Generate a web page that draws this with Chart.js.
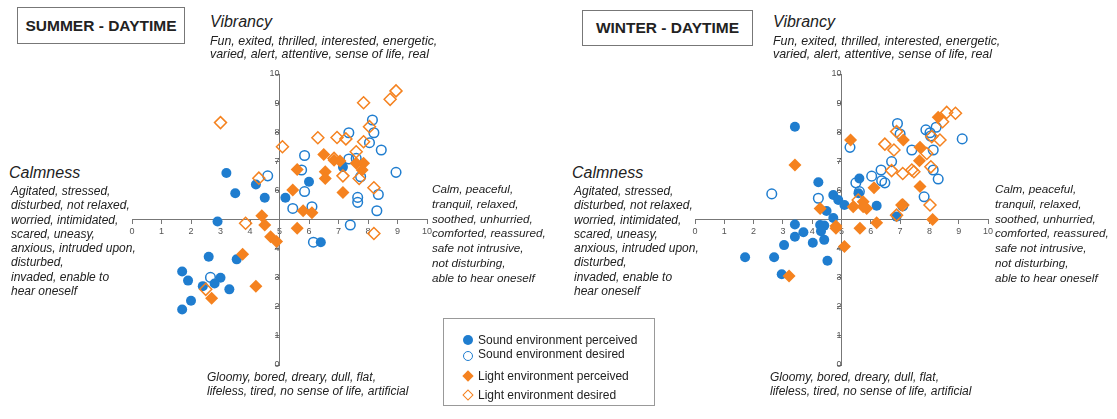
<!DOCTYPE html>
<html>
<head>
<meta charset="utf-8">
<script src="https://cdn.jsdelivr.net/npm/chart.js@4.4.1/dist/chart.umd.min.js"></script>
<style>
  body { margin: 0; background: #fff; font-family: "Liberation Sans", Arial, sans-serif; color: #222; }
  #page { position: relative; width: 1117px; height: 419px; overflow: hidden; }
  canvas { position: absolute; }
  .txt { position: absolute; white-space: nowrap; font-style: italic; z-index: 2; }
  .head { font-size: 16px; line-height: 20px; }
  .small { font-size: 12.4px; line-height: 13.3px; }
  .side { font-size: 12px; line-height: 14.3px; }
  .sideR { font-size: 11.7px; line-height: 14.8px; }
  .title { position: absolute; border: 1px solid #777; font-weight: bold; font-size: 15.5px; text-align: center; box-sizing: border-box; }
  #legend { position: absolute; left: 443px; top: 318px; width: 212px; height: 88px; border: 1px solid #999; box-sizing: border-box; font-size: 12px; z-index: 2; }
  .item { position: absolute; left: 34px; white-space: nowrap; line-height: 14px; }
  .sym { position: absolute; box-sizing: border-box; }
</style>
</head>
<body>
<div id="page">
  <canvas id="summerChart" width="335" height="331" style="left:112px; top:54px;"></canvas>
  <canvas id="winterChart" width="333" height="331" style="left:675px; top:54px;"></canvas>

  <!-- summer texts -->
  <div class="title" style="left:17px; top:7px; width:168px; height:37px; line-height:35px;">SUMMER - DAYTIME</div>
  <div class="txt head" style="left:210px; top:12px;">Vibrancy</div>
  <div class="txt small" style="left:210px; top:35px;">Fun, exited, thrilled, interested, energetic,<br>varied, alert, attentive, sense of life, real</div>
  <div class="txt head" style="left:9px; top:163px;">Calmness</div>
  <div class="txt side" style="left:11px; top:184px;">Agitated, stressed,<br>disturbed, not relaxed,<br>worried, intimidated,<br>scared, uneasy,<br>anxious, intruded upon,<br>disturbed,<br>invaded, enable to<br>hear oneself</div>
  <div class="txt sideR" style="left:432px; top:182px;">Calm, peaceful,<br>tranquil, relaxed,<br>soothed, unhurried,<br>comforted, reassured,<br>safe not intrusive,<br>not disturbing,<br>able to hear oneself</div>
  <div class="txt side" style="left:207px; top:370px;">Gloomy, bored, dreary, dull, flat,<br>lifeless, tired, no sense of life, artificial</div>

  <!-- winter texts -->
  <div class="title" style="left:582px; top:10px; width:171px; height:36px; line-height:34px;">WINTER - DAYTIME</div>
  <div class="txt head" style="left:773px; top:12px;">Vibrancy</div>
  <div class="txt small" style="left:773px; top:35px;">Fun, exited, thrilled, interested, energetic,<br>varied, alert, attentive, sense of life, real</div>
  <div class="txt head" style="left:572px; top:163px;">Calmness</div>
  <div class="txt side" style="left:574px; top:184px;">Agitated, stressed,<br>disturbed, not relaxed,<br>worried, intimidated,<br>scared, uneasy,<br>anxious, intruded upon,<br>disturbed,<br>invaded, enable to<br>hear oneself</div>
  <div class="txt sideR" style="left:995px; top:182px;">Calm, peaceful,<br>tranquil, relaxed,<br>soothed, unhurried,<br>comforted, reassured,<br>safe not intrusive,<br>not disturbing,<br>able to hear oneself</div>
  <div class="txt side" style="left:770px; top:370px;">Gloomy, bored, dreary, dull, flat,<br>lifeless, tired, no sense of life, artificial</div>

  <div id="legend">
    <span class="sym" style="left:19px; top:16px; width:10px; height:10px; border-radius:50%; background:#1f7dcf;"></span>
    <div class="item" style="top:14px;">Sound environment perceived</div>
    <span class="sym" style="left:19px; top:32px; width:10px; height:10px; border-radius:50%; border:1.5px solid #1f7dcf;"></span>
    <div class="item" style="top:28px;">Sound environment desired</div>
    <span class="sym" style="left:20px; top:53px; width:8px; height:8px; transform:rotate(45deg); background:#f5821f;"></span>
    <div class="item" style="top:50px;">Light environment perceived</div>
    <span class="sym" style="left:20px; top:72px; width:8px; height:8px; transform:rotate(45deg); border:1.5px solid #f5821f;"></span>
    <div class="item" style="top:69px;">Light environment desired</div>
  </div>
</div>

<script>
const blue = '#1f7dcf';
const orange = '#f5821f';

// [calmness, vibrancy] pairs
const summerSoundPerceived = [[3.2,6.6],[3.5,5.9],[4.2,6.2],[4.5,5.75],[5.2,5.75],[6.0,6.3],[7.15,6.8],[2.9,4.93],[6.4,4.22],[2.6,3.72],[3.55,3.63],[1.7,3.21],[3.0,3.0],[1.9,2.9],[2.8,2.8],[3.3,2.6],[2.4,2.71],[2.0,2.21],[1.7,1.91]];
const summerSoundDesired = [[4.6,6.5],[5.85,7.2],[5.75,6.7],[5.85,5.96],[5.45,5.38],[6.1,5.44],[7.35,7.98],[7.35,7.08],[7.6,7.1],[7.75,6.47],[7.65,5.76],[7.65,5.59],[8.15,8.42],[8.2,7.98],[8.05,7.64],[8.45,7.39],[8.95,6.62],[8.35,5.86],[8.3,5.3],[2.66,3.01],[6.15,4.22],[7.4,4.81]];
const summerLightPerceived = [[6.5,7.23],[5.6,6.72],[6.55,6.64],[6.55,6.41],[6.85,7.04],[7.05,7.01],[7.6,6.93],[7.85,6.93],[7.8,6.7],[5.45,6.01],[7.15,5.93],[5.8,5.3],[6.1,5.23],[4.4,5.13],[4.5,4.81],[4.7,4.41],[4.9,4.24],[5.6,4.7],[3.75,3.81],[4.2,2.71],[2.7,2.29]];
const summerLightDesired = [[3.0,8.33],[5.1,7.5],[4.3,6.42],[6.3,7.81],[6.95,7.82],[7.25,7.77],[7.85,9.01],[8.75,9.13],[8.95,9.42],[8.05,8.19],[7.85,7.67],[7.6,7.33],[6.85,7.1],[7.15,6.5],[7.7,6.41],[8.2,6.09],[3.85,4.87],[8.2,4.52],[2.5,2.6]];

const winterSoundPerceived = [[3.41,8.19],[4.21,6.28],[5.61,6.41],[4.72,5.84],[4.89,5.67],[5.1,5.5],[4.49,5.29],[5.58,5.9],[6.2,5.47],[4.72,5.05],[6.88,5.1],[3.41,4.83],[3.7,4.56],[3.41,4.41],[4.27,4.81],[4.41,4.79],[4.3,4.6],[4.41,4.3],[4.02,4.2],[3.04,4.12],[1.71,3.7],[2.7,3.7],[4.52,3.58],[2.96,3.12]];
const winterSoundDesired = [[2.62,5.88],[5.29,7.48],[6.91,8.3],[7.0,7.94],[6.71,6.99],[7.4,7.39],[7.88,8.08],[8.02,7.98],[8.04,7.87],[8.23,8.17],[8.13,7.39],[8.13,6.7],[8.3,6.39],[9.12,7.77],[7.82,5.78],[4.21,5.73],[6.03,6.49],[6.35,6.7],[6.37,6.33],[6.48,6.26],[5.61,5.96],[5.49,6.26],[7.09,5.47]];
const winterLightPerceived = [[3.41,6.87],[5.31,7.73],[7.11,7.73],[8.3,8.51],[7.68,7.48],[7.66,7.02],[7.68,6.13],[6.11,6.09],[5.4,5.44],[5.74,5.61],[5.86,5.38],[4.27,5.38],[7.05,5.5],[5.74,5.44],[4.81,4.78],[4.81,4.7],[5.63,4.7],[6.2,4.89],[8.11,5.0],[5.1,4.07],[3.21,3.06]];
const winterLightDesired = [[6.48,7.59],[6.79,7.39],[6.71,6.68],[7.09,6.58],[7.4,6.7],[7.47,6.64],[6.88,8.02],[7.91,7.27],[8.05,6.81],[8.08,7.85],[8.36,7.73],[8.59,8.68],[8.89,8.65],[8.45,8.36],[8.02,5.5],[5.57,5.67],[7.09,5.5],[6.88,5.15]];

const axisTicks = [0, 1, 2, 3, 4, 5, 6, 7, 8, 9, 10];

function toPoints(arr) {
  return arr.map(p => ({ x: p[0], y: p[1] }));
}

function axis(crossAt, other, hide, pad) {
  return {
    type: 'linear',
    min: 0,
    max: 10,
    position: { [other]: crossAt },
    afterBuildTicks: (s) => { s.ticks = axisTicks.map(v => ({ value: v })); },
    ticks: {
      font: { family: 'Liberation Sans', size: 9 },
      color: '#555',
      padding: pad,
      callback: (v) => (v === hide ? '' : v)
    },
    grid: { drawOnChartArea: false, drawTicks: true, tickLength: 4, color: '#777' },
    border: { display: true, color: '#777', width: 1 }
  };
}

function makeChart(id, soundP, soundD, lightP, lightD) {
  const ctx = document.getElementById(id).getContext('2d');
  return new Chart(ctx, {
    type: 'scatter',
    data: {
      datasets: [
        { label: 'Light environment perceived', data: toPoints(lightP), pointStyle: 'rectRot', pointRadius: 6.5, backgroundColor: orange, borderColor: orange, borderWidth: 0 },
        { label: 'Light environment desired', data: toPoints(lightD), pointStyle: 'rectRot', pointRadius: 6, backgroundColor: 'rgba(255,255,255,0)', borderColor: orange, borderWidth: 1.5 },
        { label: 'Sound environment perceived', data: toPoints(soundP), pointStyle: 'circle', pointRadius: 5, backgroundColor: blue, borderColor: blue, borderWidth: 0 },
        { label: 'Sound environment desired', data: toPoints(soundD), pointStyle: 'circle', pointRadius: 4.8, backgroundColor: 'rgba(255,255,255,0)', borderColor: blue, borderWidth: 1.5 }
      ]
    },
    options: {
      responsive: false,
      animation: false,
      clip: false,
      layout: { padding: 20 },
      plugins: { legend: { display: false }, tooltip: { enabled: false } },
      scales: {
        x: axis(5, 'y', null, 3),
        y: axis(5, 'x', 5, 5)
      }
    }
  });
}

makeChart('summerChart', summerSoundPerceived, summerSoundDesired, summerLightPerceived, summerLightDesired);
makeChart('winterChart', winterSoundPerceived, winterSoundDesired, winterLightPerceived, winterLightDesired);
</script>
</body>
</html>
